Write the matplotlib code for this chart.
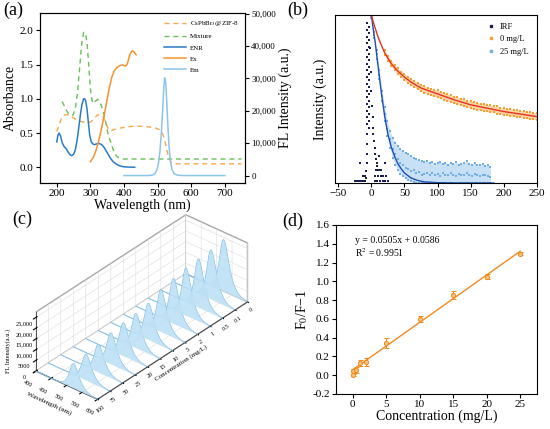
import numpy as np
import matplotlib
matplotlib.use('Agg')
import matplotlib.pyplot as plt
from matplotlib.lines import Line2D
from mpl_toolkits.mplot3d.art3d import Poly3DCollection

plt.rcParams['font.family'] = ['Liberation Serif', 'DejaVu Serif']
plt.rcParams['mathtext.fontset'] = 'stix'
plt.rcParams['axes.linewidth'] = 0.8
plt.rcParams['xtick.major.width'] = 0.8
plt.rcParams['ytick.major.width'] = 0.8
plt.rcParams['xtick.major.size'] = 3
plt.rcParams['ytick.major.size'] = 3

# ---------------- panel (a) data ----------------
zif_wl = [200, 207, 214, 222, 230, 240, 250, 260, 270, 280, 290, 300, 310, 320, 330, 338, 345, 352, 360,
          370, 385, 400, 420, 440, 460, 480, 495, 505, 512, 518, 524, 530, 536, 542, 550, 560, 600, 750]
zif_abs = [0.52, 0.62, 0.71, 0.76, 0.77, 0.75, 0.72, 0.69, 0.67, 0.66, 0.65, 0.66, 0.70, 0.76, 0.77, 0.74,
           0.66, 0.57, 0.53, 0.55, 0.57, 0.58, 0.595, 0.60, 0.595, 0.585, 0.57, 0.55, 0.52, 0.45, 0.33, 0.20,
           0.11, 0.07, 0.055, 0.05, 0.05, 0.05]
mix_wl = [216, 224, 232, 240, 248, 255, 262, 268, 274, 280, 285, 290, 295, 300, 305, 310, 316, 322, 328,
          334, 340, 346, 352, 358, 365, 372, 380, 390, 400, 420, 450, 500, 600, 750]
mix_abs = [0.96, 0.88, 0.80, 0.76, 0.76, 0.85, 1.1, 1.45, 1.8, 1.97, 1.96, 1.82, 1.5, 1.15, 0.97, 0.93,
           0.97, 0.99, 0.96, 0.88, 0.78, 0.65, 0.50, 0.40, 0.30, 0.20, 0.15, 0.13, 0.12, 0.12, 0.12, 0.12,
           0.12, 0.12]
enr_wl = [200, 203, 207, 211, 216, 222, 228, 234, 240, 245, 250, 255, 260, 265, 270, 275, 280, 283, 286,
          290, 294, 298, 302, 307, 312, 318, 324, 330, 336, 342, 348, 354, 360, 368, 376, 385, 395, 410, 432]
enr_abs = [0.37, 0.46, 0.50, 0.46, 0.36, 0.30, 0.27, 0.22, 0.18, 0.17, 0.19, 0.25, 0.38, 0.56, 0.76, 0.92,
           1.0, 1.0, 0.97, 0.85, 0.65, 0.47, 0.38, 0.34, 0.33, 0.34, 0.35, 0.34, 0.32, 0.28, 0.23, 0.18, 0.13,
           0.08, 0.05, 0.025, 0.01, 0.003, 0.0]
ex_wl = [300, 308, 316, 324, 332, 340, 348, 356, 364, 372, 380, 388, 396, 404, 410, 415, 420, 425, 430, 436]
ex_fl = [4300, 5500, 7500, 10500, 14000, 18000, 22500, 27000, 30500, 32500, 33500, 34000, 34200, 33800,
         34500, 36500, 38000, 38600, 38200, 37300]
em_wl = [400, 470, 485, 492, 498, 503, 507, 511, 515, 518, 521, 524, 527, 530, 534, 538, 543, 550, 560, 580, 700]
em_fl = [0, 0, 150, 600, 1800, 4000, 7500, 13000, 20000, 26500, 30200, 29000, 23500, 16500, 9000, 4500,
         1800, 500, 100, 0, 0]
a_left_ticks = [0.0, 0.5, 1.0, 1.5, 2.0]
a_right_ticks = [0, 10000, 20000, 30000, 40000, 50000]
a_right_labels = ['0', '10,000', '20,000', '30,000', '40,000', '50,000']
a_x_ticks = [200, 300, 400, 500, 600, 700]

# ---------------- panel (b) data ----------------
irf_x = [-6, -6, -6, -6, -6, -6, -6, -6, -6, -6, -6, -6, -6, -6, -6, -6,
         -4, -4, -4, -4, -4, -4, -4, -4, -4, -4, -4, -4, -4, -4, -4, -4,
         -7, -7, -7, -7, -8, -8,
         -2, -1, 0, 1, 2, 3, 3, 4, 5, 6, 7, 8, 9, 10,
         -25, -22, -19, -16, -13, -10, 5, 9, 13, 17, 21, 25,
         -12, -9, 6, 10, 14, 18, 22, 7, 11, 15, -17, 12, 20]
irf_y = [0.95, 0.91, 0.87, 0.83, 0.79, 0.75, 0.71, 0.67, 0.63, 0.59, 0.55, 0.51, 0.47, 0.43, 0.39, 0.35,
         0.93, 0.89, 0.85, 0.81, 0.77, 0.73, 0.69, 0.65, 0.61, 0.57, 0.53, 0.49, 0.45, 0.41, 0.37, 0.33,
         0.29, 0.23, 0.17, 0.12, 0.07, 0.03,
         0.8, 0.66, 0.55, 0.46, 0.39, 0.33, 0.29, 0.25, 0.21, 0.17, 0.14, 0.12, 0.1, 0.08,
         0.01, 0.01, 0.01, 0.01, 0.01, 0.01, 0.01, 0.01, 0.01, 0.01, 0.01, 0.01,
         0.04, 0.04, 0.04, 0.04, 0.04, 0.04, 0.04, 0.08, 0.08, 0.08, 0.12, 0.16, 0.12]
o_x = list(range(20, 251, 5))
o_hi = [0.79, 0.757, 0.728, 0.70, 0.684, 0.663, 0.65, 0.633, 0.62, 0.607, 0.596, 0.583, 0.578, 0.566,
        0.562, 0.553, 0.551, 0.54, 0.536, 0.527, 0.522, 0.513, 0.51, 0.5, 0.497, 0.489, 0.487, 0.48, 0.478,
        0.471, 0.47, 0.463, 0.462, 0.455, 0.455, 0.447, 0.447, 0.44, 0.441, 0.434, 0.436, 0.428, 0.43,
        0.422, 0.424, 0.416, 0.418]
o_lo = [0.762, 0.724, 0.693, 0.67, 0.647, 0.628, 0.611, 0.597, 0.581, 0.57, 0.557, 0.548, 0.537, 0.532,
        0.521, 0.518, 0.509, 0.505, 0.495, 0.49, 0.481, 0.478, 0.469, 0.465, 0.456, 0.453, 0.445, 0.443,
        0.437, 0.436, 0.429, 0.428, 0.421, 0.42, 0.413, 0.412, 0.405, 0.405, 0.399, 0.398, 0.393, 0.395,
        0.387, 0.386, 0.381, 0.38, 0.375]
r_x = [0, 2, 5, 10, 15, 20, 30, 40, 50, 60, 75, 100, 125, 150, 175, 200, 225, 250]
r_y = [1.0, 0.97, 0.93, 0.87, 0.82, 0.775, 0.71, 0.665, 0.63, 0.60, 0.565, 0.53, 0.495, 0.465, 0.445,
       0.425, 0.41, 0.395]
b_x = list(range(0, 181, 4))
b_hi = [1.0, 0.9, 0.79, 0.67, 0.55, 0.45, 0.37, 0.31, 0.27, 0.24, 0.22, 0.205, 0.19, 0.18, 0.17, 0.16,
        0.15, 0.14, 0.135, 0.13, 0.125, 0.13, 0.12, 0.125, 0.115, 0.12, 0.125, 0.115, 0.12, 0.11, 0.12,
        0.115, 0.125, 0.11, 0.115, 0.12, 0.13, 0.115, 0.11, 0.12, 0.11, 0.105, 0.115, 0.1, 0.11, 0.095]
b_mid = [0.99, 0.88, 0.765, 0.645, 0.52, 0.41, 0.32, 0.26, 0.2, 0.17, 0.14, 0.12, 0.11, 0.09, 0.085, 0.07,
         0.075, 0.06, 0.065, 0.05, 0.055, 0.06, 0.045, 0.06, 0.05, 0.055, 0.04, 0.06, 0.05, 0.045, 0.06,
         0.05, 0.04, 0.055, 0.05, 0.045, 0.06, 0.05, 0.04, 0.055, 0.05, 0.04, 0.05, 0.045, 0.04, 0.035]
b_lo = [0.98, 0.86, 0.74, 0.62, 0.49, 0.37, 0.28, 0.21, 0.15, 0.11, 0.08, 0.055, 0.04, 0.03, 0.02, 0.012,
        0.006] + [0.0] * 29
bf_x = [0, 3, 6, 10, 15, 20, 25, 30, 35, 40, 45, 50, 60, 70, 80, 100, 130, 160, 185]
bf_y = [1.0, 0.91, 0.83, 0.70, 0.54, 0.40, 0.29, 0.215, 0.16, 0.115, 0.085, 0.06, 0.03, 0.015, 0.007,
        0.002, 0.0, 0.0, 0.0]
b_x_ticks = [-50, 0, 50, 100, 150, 200, 250]

# ---------------- panel (c) data ----------------
c_conc_labels = ['100', '75', '50', '25', '20', '15', '10', '5', '2', '1', '0.5', '0.1', '0']
c_peak = [11500, 12000, 13000, 14500, 15500, 16000, 17000, 19500, 21000, 22000, 22500, 23000, 24000]
c_wl = [400, 450, 470, 480, 488, 495, 501, 506, 511, 515, 519, 523, 527, 532, 538, 544, 551, 559, 568,
        578, 590, 600]
c_prof = [0, 0, 0.01, 0.03, 0.07, 0.15, 0.28, 0.45, 0.66, 0.84, 0.97, 1.0, 0.95, 0.82, 0.63, 0.45, 0.29,
          0.17, 0.09, 0.04, 0.015, 0]
c_z_ticks = [0, 5000, 10000, 15000, 20000, 25000]
c_z_labels = ['0', '5000', '10,000', '15,000', '20,000', '25,000']
c_x_ticks = [400, 450, 500, 550, 600]

# ---------------- panel (d) data ----------------
d_x = [0, 0.1, 0.5, 1, 2, 5, 10, 15, 20, 25]
d_y = [0.0, 0.05, 0.055, 0.13, 0.14, 0.345, 0.60, 0.855, 1.05, 1.295]
d_err = [0.01, 0.02, 0.035, 0.03, 0.045, 0.05, 0.03, 0.04, 0.03, 0.02]
d_slope, d_intercept = 0.0505, 0.0586
d_fit_range = [0, 25]

# colours
c_zif = '#F6A94B'
c_mix = '#6CBF5B'
c_enr = '#2A7CC7'
c_ex = '#F7922E'
c_em = '#8CC4EA'

fig = plt.figure(figsize=(5.5, 4.29), dpi=100)

# ---------------- (c) drawn first (behind everything) ----------------
axC = fig.add_axes([-0.041, -0.011, 0.585, 0.575], projection='3d')
axC.set_facecolor((1, 1, 1, 0))
axC.set_proj_type('ortho')
axC.view_init(elev=33, azim=-50)
axC.set_box_aspect((87, 252, 76), zoom=1.01)
c_pos = np.arange(len(c_conc_labels))
prof = np.array(c_prof)
for i in c_pos[::-1]:
    z = prof * c_peak[i]
    yy = np.full(len(c_wl), float(i))
    verts = [list(zip(c_wl, yy, z)) + [(c_wl[-1], float(i), 0.0), (c_wl[0], float(i), 0.0)]]
    poly = Poly3DCollection(verts, facecolor=(0.74, 0.88, 0.96, 0.9), edgecolor='none')
    axC.add_collection3d(poly)
    axC.plot(c_wl, yy, z, color='#7DBDE6', lw=0.7)
axC.set_xlim(400, 600)
axC.set_ylim(0, len(c_conc_labels) - 1)
axC.set_zlim(0, 27500)
axC.set_xticks(c_x_ticks)
axC.set_yticks(c_pos)
axC.set_yticklabels(c_conc_labels)
axC.set_zticks(c_z_ticks)
axC.set_zticklabels(c_z_labels)
axC.zaxis.set_ticks_position('lower')
axC.zaxis.set_label_position('lower')
for a in (axC.xaxis, axC.yaxis, axC.zaxis):
    a.set_pane_color((1, 1, 1, 1))
    a.pane.set_edgecolor('#a8a8a8')
    a._axinfo['grid'].update(color='#dcdcdc', linewidth=0.4)
    a.line.set_color('#333333')
    a.line.set_linewidth(0.6)
axC.tick_params(labelsize=4.5, pad=-3)
for t in axC.get_xticklabels():
    t.set_rotation(-28)
for t in axC.get_yticklabels():
    t.set_rotation(35)
axC.set_xlabel('Wavelength (nm)', fontsize=5, labelpad=-10)
axC.set_ylabel('Concentration (mg/L)', fontsize=5, labelpad=-8)
axC.set_zlabel('FL Intensity(a.u.)', fontsize=4.5, labelpad=-9)
fig.text(0.022, 0.508, '(c)', fontsize=13, va='top', ha='left')

# ---------------- (a) ----------------
axA = fig.add_axes([0.0727, 0.5734, 0.3727, 0.396])
dash = (0, (3.6, 2.8))
axA.plot(zif_wl, zif_abs, color=c_zif, lw=1.0, ls=dash)
axA.plot(mix_wl, mix_abs, color=c_mix, lw=1.0, ls=dash)
axA.plot(enr_wl, enr_abs, color=c_enr, lw=1.1)
axA.set_xlim(150, 760)
axA.set_ylim(-0.23, 2.25)
axA.set_xticks(a_x_ticks)
axA.set_yticks(a_left_ticks)
axA.set_yticklabels(['%.1f' % v for v in a_left_ticks])
axA.tick_params(labelsize=8, pad=1.5)
axA.set_xlabel('Wavelength (nm)', fontsize=10, labelpad=0)
axA.set_ylabel('Absorbance', fontsize=10, labelpad=2)
axA2 = axA.twinx()
axA2.plot(ex_wl, ex_fl, color=c_ex, lw=1.1)
axA2.plot(em_wl, em_fl, color=c_em, lw=1.1)
axA2.set_ylim(-2300, 50200)
axA2.set_yticks(a_right_ticks)
axA2.set_yticklabels(a_right_labels)
axA2.tick_params(labelsize=6.5, pad=1.5)
axA2.set_ylabel('FL Intensity (a.u.)', fontsize=10, labelpad=2)
handles = [Line2D([], [], color=c_zif, lw=1.0, ls=dash),
           Line2D([], [], color=c_mix, lw=1.0, ls=dash),
           Line2D([], [], color=c_enr, lw=1.1),
           Line2D([], [], color=c_ex, lw=1.1),
           Line2D([], [], color=c_em, lw=1.1)]
labels = ['CsPbBr$_3$@ZIF-8', 'Mixture', 'ENR', 'Ex', 'Em']
axA2.legend(handles, labels, loc='upper right', fontsize=5, frameon=False, handlelength=3.2,
            labelspacing=0.75, borderaxespad=0.5, handletextpad=0.5)
fig.text(0.005, 0.995, '(a)', fontsize=13, va='top', ha='left')

# ---------------- (b) ----------------
axB = fig.add_axes([0.609, 0.5734, 0.367, 0.392])
axB.fill_between(b_x, b_lo, b_hi, color='#9CC8EE', alpha=0.55, lw=0)
axB.scatter(b_x, b_hi, s=1.2, marker='s', color='#6FAEE3', lw=0)
axB.scatter(b_x, b_mid, s=1.2, marker='s', color='#6FAEE3', lw=0)
axB.scatter(b_x, b_lo, s=1.2, marker='s', color='#6FAEE3', lw=0)
axB.plot(bf_x, bf_y, color='#1F4FB2', lw=1.0)
axB.fill_between(o_x, o_lo, o_hi, color='#F9B764', alpha=0.6, lw=0)
axB.scatter(o_x, o_hi, s=1.5, marker='s', color='#F7A030', lw=0)
axB.scatter(o_x, o_lo, s=1.5, marker='s', color='#F7A030', lw=0)
axB.plot(r_x, r_y, color='#E8321E', lw=1.0)
axB.scatter(irf_x, irf_y, s=0.7, marker='s', color='#1B1F4E', lw=0)
axB.set_xlim(-55, 250)
axB.set_ylim(0, 1.0)
axB.set_xticks(b_x_ticks)
axB.set_yticks([])
axB.tick_params(labelsize=8, pad=1.5)
axB.set_ylabel('Intensity (a.u.)', fontsize=10, labelpad=6)
hb = [Line2D([], [], ls='none', marker='s', ms=1.5, color='#1B1F4E'),
      Line2D([], [], ls='none', marker='s', ms=1.5, color='#F7A030'),
      Line2D([], [], ls='none', marker='s', ms=1.5, color='#6FAEE3')]
axB.legend(hb, ['IRF', '0 mg/L', '25 mg/L'], loc='upper right', fontsize=6, frameon=False,
           handlelength=1.0, labelspacing=0.5, handletextpad=0.6, borderaxespad=0.6)
fig.text(0.522, 0.995, '(b)', fontsize=13, va='top', ha='left')

# ---------------- (d) ----------------
axD = fig.add_axes([0.611, 0.0816, 0.3655, 0.394])
fx = np.array(d_fit_range, dtype=float)
axD.plot(fx, d_slope * fx + d_intercept, color='#F28A1E', lw=1.0)
axD.errorbar(d_x, d_y, yerr=d_err, fmt='o', ms=3, mfc='#F9C27A', mec='#F28A1E', mew=0.7,
             ecolor='#F28A1E', elinewidth=0.7, capsize=1.8, capthick=0.7)
axD.set_xlim(-2.5, 27.5)
axD.set_ylim(-0.2, 1.6)
axD.set_xticks([0, 5, 10, 15, 20, 25])
d_yt = [-0.2, 0.0, 0.2, 0.4, 0.6, 0.8, 1.0, 1.2, 1.4, 1.6]
axD.set_yticks(d_yt)
axD.set_yticklabels(['-0.2'] + ['%.1f' % v for v in d_yt[1:]])
axD.tick_params(labelsize=8, pad=1.5)
axD.set_xlabel('Concentration (mg/L)', fontsize=10, labelpad=0)
axD.set_ylabel('F$_0$/F\u22121', fontsize=10, labelpad=2)
axD.text(0.095, 0.91, 'y = 0.0505x + 0.0586', transform=axD.transAxes, fontsize=7, va='center')
axD.text(0.095, 0.835, 'R$^2$ = 0.9951', transform=axD.transAxes, fontsize=7, va='center')
fig.text(0.513, 0.505, '(d)', fontsize=13, va='top', ha='left')

fig.savefig('out.png', dpi=100)
